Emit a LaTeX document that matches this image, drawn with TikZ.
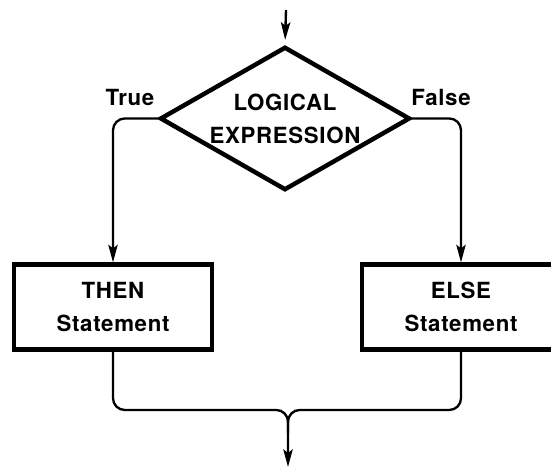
\documentclass[tikz,border=0pt]{standalone}
\usepackage{fontspec}
\setmainfont{TeX Gyre Heros}[LetterSpace=3]
\usepackage{tikz}
\usetikzlibrary{arrows.meta, shapes}

\begin{document}
\begin{tikzpicture}[->, >={Stealth[length=15pt, width=8pt, inset=3pt]}, line width=2pt, font=\fontsize{19}{28}\selectfont\bfseries,
		decision/.style={diamond, draw, line width=3.8pt, aspect=1.7, inner sep=0pt, minimum width=7.5cm, minimum height=4.3cm, align=center},
		stmt/.style={rectangle, draw, line width=3.6pt, minimum width=5.94cm, minimum height=2.55cm, align=center}]
		\useasboundingbox (0, 0) rectangle (16.53, 14.04);
		\clip (0, 0) rectangle (16.53, 14.04);
		
		\coordinate (in) at (8.58, 13.74);
		\node[decision] (logic) at (8.55, 10.485) {LOGICAL\\EXPRESSION};
		\node (true) at (3.9, 11.12) {True};
		\node (false) at (13.23, 11.13) {False};
		
		\node[stmt] (then) at (3.39, 4.83) {THEN\\Statement};
		\node[stmt] (else) at (13.83, 4.83) {ELSE\\Statement};
		
		\coordinate (join) at (8.64, 1.74);
		\coordinate (out) at (8.64, 0.03);
		
		\draw[shorten >=4pt] (in) -- (logic.north);
		\draw[rounded corners=10pt] (logic.west) -| (then.north);
		\draw[rounded corners=10pt] (logic.east) -| (else.north);
		\draw[rounded corners=10pt] (then.south) |- (join) -- (out);
		\draw[-, rounded corners=10pt] (else.south) |- (join) -- ([yshift=1cm]out);
	\end{tikzpicture}
\end{document}
